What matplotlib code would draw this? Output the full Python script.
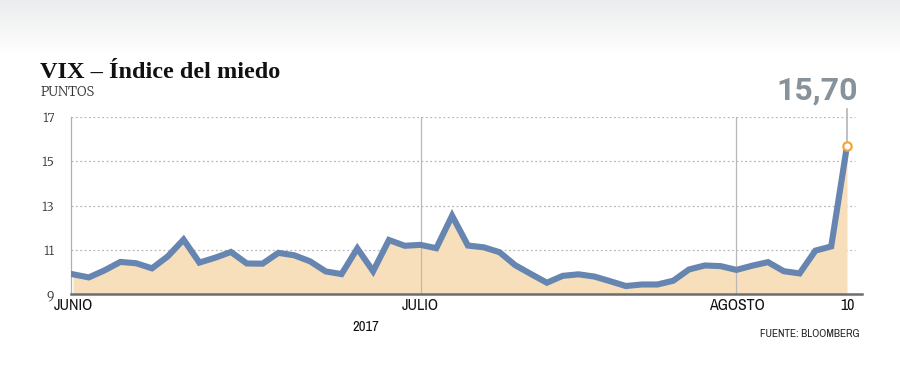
import numpy as np
import matplotlib
matplotlib.use("Agg")
import matplotlib.pyplot as plt

# VIX closes, trading days 1 Jun - 10 Aug 2017
vix = [9.89, 9.75, 10.07, 10.45, 10.39, 10.16, 10.70, 11.46, 10.42, 10.64,
       10.90, 10.38, 10.37, 10.86, 10.75, 10.48, 10.02, 9.90, 11.06, 10.03,
       11.44, 11.18, 11.22, 11.07, 12.54, 11.19, 11.11, 10.89, 10.30, 9.90,
       9.51, 9.82, 9.89, 9.79, 9.58, 9.36, 9.43, 9.43, 9.60, 10.11,
       10.29, 10.26, 10.09, 10.28, 10.44, 10.03, 9.93, 10.96, 11.15, 15.70]
month_idx = [0, 22, 42, 49]
month_labels = ["JUNIO", "JULIO", "AGOSTO", "10"]
y_ticks = [9, 11, 13, 15, 17]
last_label = "15,70"

SERIF = ["Merriweather", "Source Serif 4", "DejaVu Serif"]
NARROW = ["Archivo Narrow", "Barlow Semi Condensed", "DejaVu Sans"]
BOLDSANS = ["Roboto", "DejaVu Sans"]

W, H = 900, 383
fig = plt.figure(figsize=(W / 100, H / 100), dpi=100)

# light grey gradient band at the top
bg = fig.add_axes([0, 0, 1, 1])
bg.set_axis_off()
g = np.ones(H)
g[:55] = np.linspace(0.925, 1.0, 55)
rgb = np.dstack([g, g + 0.004 * (1 - g) / 0.075, g + 0.008 * (1 - g) / 0.075]).clip(0, 1)
bg.imshow(rgb.reshape(H, 1, 3), aspect="auto", extent=[0, 1, 0, 1], zorder=0)
bg.set_xlim(0, 1)
bg.set_ylim(0, 1)

def px(x, y):
    return x / W, 1 - y / H

left, right, ytop, ybot = 71, 862, 117, 294
ax = fig.add_axes([left / W, 1 - ybot / H, (right - left) / W, (ybot - ytop) / H])
ax.patch.set_alpha(0)

x = np.arange(len(vix))
step = (847 - 73) / 49
ax.set_xlim((left - 73) / step, (right - 73) / step)
ax.set_ylim(9, 17)

ax.fill_between(x, 9, vix, color="#f8dfbb", lw=0, zorder=1)
ax.plot(x, vix, color="#6685b0", lw=4.4, solid_joinstyle="miter", zorder=3)

for yv in y_ticks[1:]:
    ax.plot([ax.get_xlim()[0], 49.5], [yv, yv], ls=(0, (1.5, 2)), color="#b8b8b8",
            lw=0.9, zorder=0)
for i in month_idx[1:3]:
    ax.axvline(i, color="#b8b8b8", lw=0.9, zorder=2)

ax.plot([49, 49], [vix[-1], 17.35], color="#b5b5b5", lw=1.2, clip_on=False, zorder=2)
ax.plot(49, vix[-1], "o", ms=6, mfc="white", mec="#f0a63a", mew=1.6, zorder=5,
        clip_on=False)
ax.text(49.7, 17.5, last_label, ha="right", va="bottom", fontsize=23,
        fontweight="bold", color="#87929b", family=BOLDSANS)

for s in ["top", "right"]:
    ax.spines[s].set_visible(False)
ax.spines["left"].set_color("#b0b0b0")
ax.spines["left"].set_linewidth(0.9)
ax.spines["bottom"].set_color("#6d6d6d")
ax.spines["bottom"].set_linewidth(1.8)
ax.spines["bottom"].set_zorder(6)

ax.set_yticks(y_ticks)
ax.set_yticklabels([str(v) for v in y_ticks], family=SERIF, fontsize=9,
                   color="#333333")
ax.set_xticks(month_idx)
ax.set_xticklabels(month_labels, family=NARROW, fontsize=11.5, color="#111111")
ax.tick_params(axis="both", length=0)
ax.tick_params(axis="y", pad=12)
ax.tick_params(axis="x", pad=3)

fig.text(*px(40, 78), "VIX – Índice del miedo", fontsize=17.5, fontweight="bold",
         family=["Liberation Serif", "DejaVu Serif"], color="#111111", va="baseline")
fig.text(*px(41, 96), "PUNTOS", fontsize=9.5, family=SERIF,
         color="#333333", va="baseline")
fig.text(*px(366, 331), "2017", fontsize=10.5, ha="center", va="baseline",
         family=NARROW, color="#111111")
fig.text(*px(859, 337), "FUENTE: BLOOMBERG", fontsize=8, ha="right",
         va="baseline", family=NARROW, color="#222222")

fig.savefig("out.png", dpi=100)
